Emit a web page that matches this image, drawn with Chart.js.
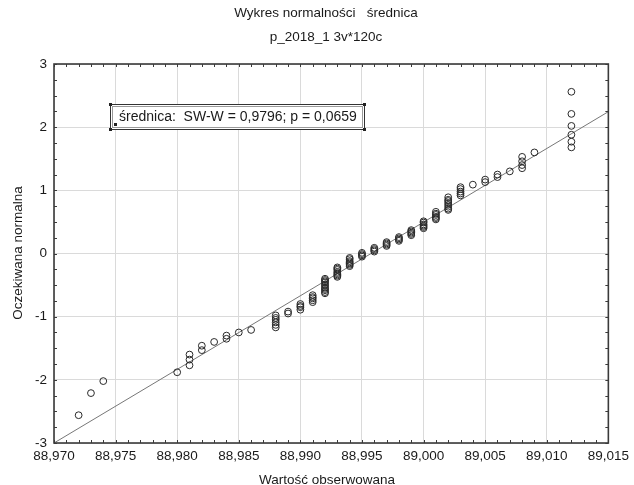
<!DOCTYPE html>
<html><head><meta charset="utf-8">
<script src="https://cdn.jsdelivr.net/npm/chart.js@4/dist/chart.umd.min.js"></script>
<style>html,body{margin:0;padding:0;background:#fff;}#wrap{width:634px;height:485px;}</style>
</head><body><div id="wrap"><canvas id="c" width="634" height="485"></canvas></div>
<script>
const chartTitle = 'Wykres normalności   średnica';
const chartSubtitle = 'p_2018_1 3v*120c';
const xAxisTitle = 'Wartość obserwowana';
const yAxisTitle = 'Oczekiwana normalna';
const statsLabel = 'średnica:  SW-W = 0,9796; p = 0,0659';

const xTickValues = [88.970, 88.975, 88.980, 88.985, 88.990, 88.995, 89.000, 89.005, 89.010, 89.015];
const yTickValues = [-3, -2, -1, 0, 1, 2, 3];

const observed = [
  88.972, 88.973, 88.974, 88.980,
  88.981, 88.981, 88.981,
  88.982, 88.982,
  88.983,
  88.984, 88.984,
  88.985, 88.986,
  88.988, 88.988, 88.988, 88.988, 88.988, 88.988,
  88.989, 88.989,
  88.990, 88.990, 88.990, 88.990,
  88.991, 88.991, 88.991, 88.991, 88.991,
  88.992, 88.992, 88.992, 88.992, 88.992, 88.992, 88.992, 88.992, 88.992, 88.992, 88.992,
  88.993, 88.993, 88.993, 88.993, 88.993, 88.993, 88.993, 88.993,
  88.994, 88.994, 88.994, 88.994, 88.994, 88.994, 88.994,
  88.995, 88.995, 88.995, 88.995,
  88.996, 88.996, 88.996, 88.996,
  88.997, 88.997, 88.997, 88.997,
  88.998, 88.998, 88.998, 88.998,
  88.999, 88.999, 88.999, 88.999, 88.999,
  89.000, 89.000, 89.000, 89.000, 89.000, 89.000,
  89.001, 89.001, 89.001, 89.001, 89.001, 89.001,
  89.002, 89.002, 89.002, 89.002, 89.002, 89.002, 89.002, 89.002,
  89.003, 89.003, 89.003, 89.003, 89.003,
  89.004,
  89.005, 89.005,
  89.006, 89.006,
  89.007,
  89.008, 89.008, 89.008, 89.008,
  89.009,
  89.012, 89.012, 89.012, 89.012, 89.012, 89.012
];
const expected = [
  -2.56, -2.21, -2.02, -1.88,
  -1.77, -1.68, -1.60,
  -1.53, -1.46,
  -1.40,
  -1.35, -1.30,
  -1.25, -1.21,
  -1.17, -1.13, -1.09, -1.05, -1.02, -0.98,
  -0.95, -0.92,
  -0.89, -0.85, -0.83, -0.80,
  -0.77, -0.74, -0.71, -0.69, -0.66,
  -0.63, -0.61, -0.58, -0.56, -0.54, -0.51, -0.49, -0.46, -0.44, -0.42, -0.40,
  -0.37, -0.35, -0.33, -0.31, -0.29, -0.26, -0.24, -0.22,
  -0.20, -0.18, -0.16, -0.14, -0.12, -0.09, -0.07,
  -0.05, -0.03, -0.01, 0.01,
  0.03, 0.05, 0.07, 0.09,
  0.12, 0.14, 0.16, 0.18,
  0.20, 0.22, 0.24, 0.26,
  0.29, 0.31, 0.33, 0.35, 0.37,
  0.40, 0.42, 0.44, 0.46, 0.49, 0.51,
  0.54, 0.56, 0.58, 0.61, 0.63, 0.66,
  0.69, 0.71, 0.74, 0.77, 0.80, 0.83, 0.85, 0.89,
  0.92, 0.95, 0.98, 1.02, 1.05,
  1.09,
  1.13, 1.17,
  1.21, 1.25,
  1.30,
  1.35, 1.40, 1.46, 1.53,
  1.60,
  1.68, 1.77, 1.88, 2.02, 2.21, 2.56
];
const fitLineX = [88.970, 89.015];
const fitLineY = [-3.0, 2.245];

const FONT = '"Liberation Sans", Arial, sans-serif';
const TXT = '#1a1a1a';

const decor = {
  id: 'decor',
  beforeDraw(chart) {
    const ctx = chart.ctx;
    ctx.save();
    ctx.fillStyle = '#ffffff';
    ctx.fillRect(0, 0, chart.width, chart.height);
    ctx.restore();
  },
  afterDatasetsDraw(chart) {
    const ctx = chart.ctx, a = chart.chartArea;
    const xs = chart.scales.x, ys = chart.scales.y;
    ctx.save();
    // frame
    ctx.strokeStyle = '#3a3a3a';
    ctx.lineWidth = 1.6;
    ctx.strokeRect(a.left, a.top, a.right - a.left, a.bottom - a.top);
    // minor inward ticks
    ctx.lineWidth = 1;
    ctx.strokeStyle = '#3a3a3a';
    ctx.beginPath();
    for (let k = 0; k <= 45; k++) {
      const px = Math.round(xs.getPixelForValue(88.970 + k * 0.001)) + 0.5;
      ctx.moveTo(px, a.bottom); ctx.lineTo(px, a.bottom - 3);
      ctx.moveTo(px, a.top); ctx.lineTo(px, a.top + 3);
    }
    for (let k = 0; k <= 24; k++) {
      const py = Math.round(ys.getPixelForValue(-3 + k * 0.25)) + 0.5;
      ctx.moveTo(a.left, py); ctx.lineTo(a.left + 3, py);
      ctx.moveTo(a.right, py); ctx.lineTo(a.right - 3, py);
    }
    ctx.stroke();
    // stats box
    const bx = a.left + 56, by = a.top + 40, bw = 254, bh = 25;
    ctx.fillStyle = '#fff';
    ctx.fillRect(bx, by, bw, bh);
    ctx.strokeStyle = '#333';
    ctx.lineWidth = 1;
    ctx.strokeRect(bx + 0.5, by + 0.5, bw, bh);
    ctx.strokeStyle = '#999';
    ctx.strokeRect(bx + 2.5, by + 2.5, bw - 4, bh - 4);
    ctx.fillStyle = '#222';
    [[bx - 1, by - 1], [bx + bw - 1, by - 1], [bx - 1, by + bh - 1], [bx + bw - 1, by + bh - 1]].forEach(p => ctx.fillRect(p[0], p[1], 3, 3));
    ctx.fillRect(bx + 4, by + bh - 6, 3, 3);
    ctx.fillStyle = TXT;
    ctx.font = '14px ' + FONT;
    ctx.textBaseline = 'middle';
    ctx.textAlign = 'left';
    ctx.fillText(statsLabel, bx + 9, by + bh / 2 + 1);
    // titles
    ctx.font = '13.5px ' + FONT;
    ctx.textAlign = 'center';
    ctx.fillText(chartTitle, 326, 13);
    ctx.fillText(chartSubtitle, 326, 37);
    ctx.fillText(xAxisTitle, 327, 480);
    ctx.translate(18, 253);
    ctx.rotate(-Math.PI / 2);
    ctx.fillText(yAxisTitle, 0, 0);
    ctx.restore();
  }
};

new Chart(document.getElementById('c'), {
  type: 'scatter',
  data: {
    datasets: [
      {
        data: observed.map((x, i) => ({ x: x, y: expected[i] })),
        pointStyle: 'circle',
        pointRadius: 3.4,
        pointBorderWidth: 1,
        borderColor: '#2a2a2a',
        backgroundColor: 'rgba(0,0,0,0)',
        showLine: false,
        order: 1
      },
      {
        data: fitLineX.map((x, i) => ({ x: x, y: fitLineY[i] })),
        showLine: true,
        pointRadius: 0,
        borderColor: '#777',
        borderWidth: 1,
        order: 2
      }
    ]
  },
  options: {
    responsive: false,
    animation: false,
    devicePixelRatio: 1,
    layout: { padding: { top: 64, right: 19, left: 0, bottom: 0 } },
    plugins: { legend: { display: false }, tooltip: { enabled: false }, title: { display: false } },
    scales: {
      x: {
        type: 'linear', min: 88.970, max: 89.015,
        afterBuildTicks: s => { s.ticks = xTickValues.map(v => ({ value: v })); },
        afterFit: s => { s.height = 42; },
        ticks: {
          callback: v => Number(v).toFixed(3).replace('.', ','),
          color: TXT, font: { family: FONT, size: 13.5 }, padding: 5,
          maxRotation: 0, autoSkip: false
        },
        grid: { color: '#dadada', lineWidth: 1, drawTicks: false },
        border: { display: false }
      },
      y: {
        type: 'linear', min: -3, max: 3,
        afterBuildTicks: s => { s.ticks = yTickValues.map(v => ({ value: v })); },
        afterFit: s => { s.width = 54; },
        ticks: {
          callback: v => String(v),
          color: TXT, font: { family: FONT, size: 13.5 }, padding: 7
        },
        grid: { color: '#dadada', lineWidth: 1, drawTicks: false },
        border: { display: false }
      }
    }
  },
  plugins: [decor]
});
</script>
</body></html>
